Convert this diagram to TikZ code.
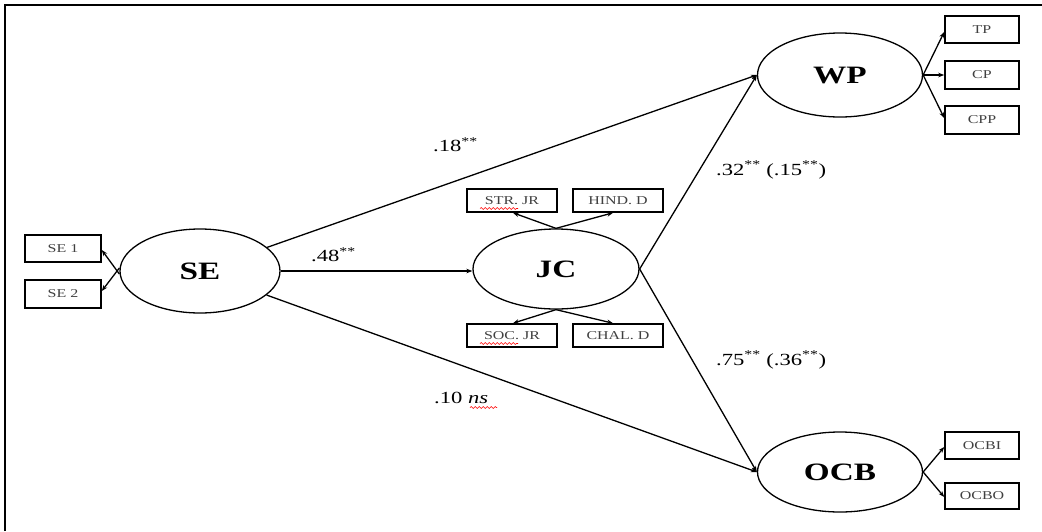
\documentclass[tikz,border=0pt]{standalone}
\usepackage{fontspec}
\setmainfont{Liberation Serif}[FakeStretch=1.33]
\usetikzlibrary{shapes.geometric,arrows.meta,decorations.pathmorphing}
\begin{document}
\begin{tikzpicture}[x=1pt,y=-1pt,
  latent/.style={ellipse,draw,line width=1.3pt,inner sep=0pt,font=\fontsize{25}{30}\selectfont\bfseries},
  obsbox/.style={rectangle,draw,line width=1.6pt,inner sep=0pt,text=black!75,font=\fontsize{12}{14}\selectfont},
  arr/.style={line width=1.3pt,-{Stealth[length=6pt,width=4.5pt]}},
  lbl/.style={anchor=west,inner sep=0pt,font=\fontsize{17}{20}\selectfont},
  spell/.style={red,line width=0.6pt,decorate,decoration={snake,segment length=4pt,amplitude=0.9pt}}]
\useasboundingbox (0,0) rectangle (1042,531);
\fill[white] (0,0) rectangle (1042,531);
% frame
\draw[line width=2pt] (5,531) -- (5,5) -- (1042,5);
% latent variables
\node[latent,minimum width=160pt,minimum height=84pt] (SE) at (200,271) {SE};
\node[latent,minimum width=166pt,minimum height=80pt] (JC) at (556,269) {JC};
\node[latent,minimum width=165pt,minimum height=84pt] (WP) at (840,75) {WP};
\node[latent,minimum width=165pt,minimum height=80pt] (OCB) at (840,472) {OCB};
% indicators
\node[obsbox,minimum width=76pt,minimum height=27pt] (SE1) at (63,248.5) {SE 1};
\node[obsbox,minimum width=76pt,minimum height=28pt] (SE2) at (63,294) {SE 2};
\node[obsbox,minimum width=90pt,minimum height=23pt] (STR) at (512,200.5) {STR. JR};
\node[obsbox,minimum width=90pt,minimum height=23pt] (HIND) at (618,200.5) {HIND. D};
\node[obsbox,minimum width=90pt,minimum height=23pt] (SOC) at (512,335.5) {SOC. JR};
\node[obsbox,minimum width=90pt,minimum height=23pt] (CHAL) at (618,335.5) {CHAL. D};
\node[obsbox,minimum width=74pt,minimum height=27pt] (TP) at (982,29.5) {TP};
\node[obsbox,minimum width=74pt,minimum height=28pt] (CP) at (982,75) {CP};
\node[obsbox,minimum width=74pt,minimum height=28pt] (CPP) at (982,120) {CPP};
\node[obsbox,minimum width=74pt,minimum height=27pt] (OCBI) at (982,445.5) {OCBI};
\node[obsbox,minimum width=74pt,minimum height=26pt] (OCBO) at (982,496) {OCBO};
% measurement arrows
\draw[arr] ([yshift=-3pt]SE.west) -- ([yshift=-1.5pt]SE1.east);
\draw[arr] ([yshift=3pt]SE.west) -- ([yshift=3pt]SE2.east);
\draw[arr] (JC.north) -- ([xshift=1pt]STR.south);
\draw[arr] (JC.north) -- ([xshift=-5pt]HIND.south);
\draw[arr] (JC.south) -- ([xshift=1pt]SOC.north);
\draw[arr] (JC.south) -- ([xshift=-5pt]CHAL.north);
\draw[arr] (WP.east) -- ([yshift=-2.5pt]TP.west);
\draw[arr] (WP.east) -- (CP.west);
\draw[arr] (WP.east) -- ([yshift=2pt]CPP.west);
\draw[arr] (OCB.east) -- ([yshift=-1.5pt]OCBI.west);
\draw[arr] (OCB.east) -- ([yshift=-1pt]OCBO.west);
% structural paths
\draw[arr] (SE) -- (WP.west);
\draw[arr] (SE.east) -- (JC.west |- SE.east);
\draw[arr] (SE) -- (OCB.west);
\draw[arr] (JC.east) -- (WP.west);
\draw[arr] (JC.east) -- (OCB.west);
% path labels
\node[lbl] (l18) at (433,145) {.18\textsuperscript{**}};
\node[lbl] (l48) at (311,255) {.48\textsuperscript{**}};
\node[lbl] (l10) at (434,398) {.10 \textit{ns}};
\node[lbl] (l32) at (716,170) {.32\textsuperscript{**} (.15\textsuperscript{**})};
\node[lbl] (l75) at (716,360) {.75\textsuperscript{**} (.36\textsuperscript{**})};
% spell-check marks
\draw[spell] (480,208.5) -- (518,208.5);
\draw[spell] (480,343.5) -- (518,343.5);
\draw[spell] (470,407.5) -- (497,407.5);
\end{tikzpicture}
\end{document}
